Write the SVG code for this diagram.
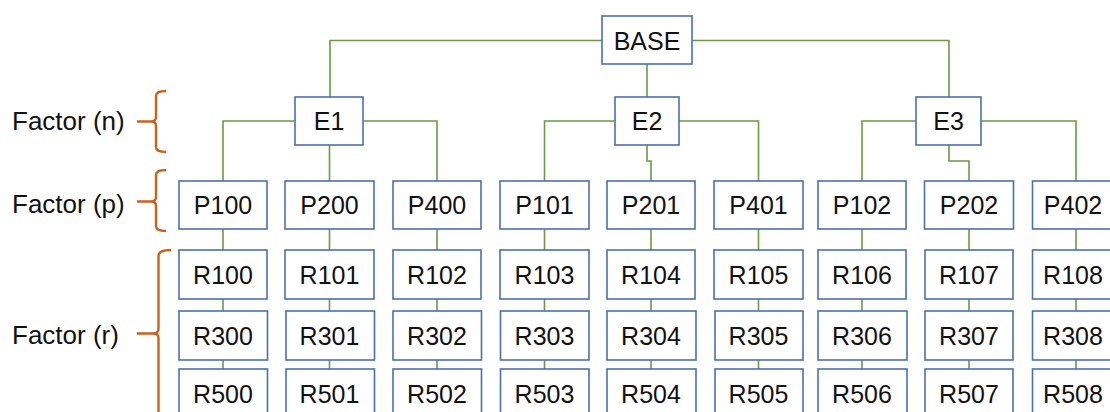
<svg xmlns="http://www.w3.org/2000/svg" width="1110" height="412" viewBox="0 0 1110 412">
<style>
.box{fill:#fff;stroke:#4A70B0;stroke-width:1.6}
.t{font-family:"Liberation Sans",Arial,sans-serif;font-size:25px;fill:#111;text-anchor:middle}
.lbl{font-family:"Liberation Sans",Arial,sans-serif;font-size:26px;fill:#111}
.c{fill:none;stroke:#6A9A42;stroke-width:1.6}
.br{fill:none;stroke:#C8631E;stroke-width:2.4;stroke-linejoin:round}
</style>
<rect width="1110" height="412" fill="#fff"/>
<g id="connectors">
<path class="c" d="M602,40.5 H330 V97"/>
<path class="c" d="M692,40.5 H949 V97"/>
<path class="c" d="M647,64 V97"/>
<path class="c" d="M295,121 H223 V181"/>
<path class="c" d="M363,121 H437 V181"/>
<path class="c" d="M329.5,145 V181"/>
<path class="c" d="M615,121 H544.5 V181"/>
<path class="c" d="M679,121 H758.5 V181"/>
<path class="c" d="M647,145 V161 H651 V181"/>
<path class="c" d="M916,121 H862 V181"/>
<path class="c" d="M981,121 H1076 V181"/>
<path class="c" d="M949,145 V161 H969 V181"/>
<path class="c" d="M223,229 V369 M329.5,229 V369 M437,229 V369 M544.5,229 V369 M651,229 V369 M758.5,229 V369 M862,229 V369 M969,229 V369 M1076,229 V369"/>
</g>
<g id="brackets">
<path class="br" d="M166,91 Q156,91 156,96 V117 Q156,121.5 151,121.5 Q156,121.5 156,126 V147 Q156,152 166,152 M137,121.5 H151"/>
<path class="br" d="M166,170 Q156,170 156,175 V197 Q156,201.5 151,201.5 Q156,201.5 156,206 V226 Q156,231 166,231 M137,201.5 H151"/>
<path class="br" d="M171,250 Q158.5,250 158.5,256 V329 Q158.5,333.5 153,333.5 Q158.5,333.5 158.5,338 V420 M137,333.5 H153"/>
<text class="lbl" x="12" y="130">Factor (n)</text>
<text class="lbl" x="12" y="213">Factor (p)</text>
<text class="lbl" x="12" y="344">Factor (r)</text>
</g>
<g id="BASE"><rect class="box" x="602" y="16" width="90" height="48"/><text class="t" x="647" y="49.5">BASE</text></g>
<g id="E1"><rect class="box" x="295" y="97" width="68" height="48"/><text class="t" x="329" y="130">E1</text></g>
<g id="E2"><rect class="box" x="615" y="97" width="64" height="48"/><text class="t" x="647" y="130">E2</text></g>
<g id="E3"><rect class="box" x="916" y="97" width="65" height="48"/><text class="t" x="948.5" y="130">E3</text></g>
<g id="P100"><rect class="box" x="179" y="181" width="88" height="48"/><text class="t" x="223" y="214">P100</text></g>
<g id="P200"><rect class="box" x="285" y="181" width="89" height="48"/><text class="t" x="329.5" y="214">P200</text></g>
<g id="P400"><rect class="box" x="393" y="181" width="88" height="48"/><text class="t" x="437" y="214">P400</text></g>
<g id="P101"><rect class="box" x="500" y="181" width="89" height="48"/><text class="t" x="544.5" y="214">P101</text></g>
<g id="P201"><rect class="box" x="607" y="181" width="88" height="48"/><text class="t" x="651" y="214">P201</text></g>
<g id="P401"><rect class="box" x="714" y="181" width="89" height="48"/><text class="t" x="758.5" y="214">P401</text></g>
<g id="P102"><rect class="box" x="818" y="181" width="88" height="48"/><text class="t" x="862" y="214">P102</text></g>
<g id="P202"><rect class="box" x="924.5" y="181" width="89" height="48"/><text class="t" x="969" y="214">P202</text></g>
<g id="P402"><rect class="box" x="1032.5" y="181" width="89" height="48"/><text class="t" x="1073" y="214">P402</text></g>
<g id="R100"><rect class="box" x="179" y="250" width="88" height="49"/><text class="t" x="223" y="284">R100</text></g>
<g id="R101"><rect class="box" x="285" y="250" width="89" height="49"/><text class="t" x="329.5" y="284">R101</text></g>
<g id="R102"><rect class="box" x="393" y="250" width="88" height="49"/><text class="t" x="437" y="284">R102</text></g>
<g id="R103"><rect class="box" x="500" y="250" width="89" height="49"/><text class="t" x="544.5" y="284">R103</text></g>
<g id="R104"><rect class="box" x="607" y="250" width="88" height="49"/><text class="t" x="651" y="284">R104</text></g>
<g id="R105"><rect class="box" x="714" y="250" width="89" height="49"/><text class="t" x="758.5" y="284">R105</text></g>
<g id="R106"><rect class="box" x="818" y="250" width="88" height="49"/><text class="t" x="862" y="284">R106</text></g>
<g id="R107"><rect class="box" x="925" y="250" width="88" height="49"/><text class="t" x="969" y="284">R107</text></g>
<g id="R108"><rect class="box" x="1032.5" y="250" width="89" height="49"/><text class="t" x="1073" y="284">R108</text></g>
<g id="R300"><rect class="box" x="179" y="311" width="88.5" height="49"/><text class="t" x="223" y="345">R300</text></g>
<g id="R301"><rect class="box" x="286" y="311" width="88.5" height="49"/><text class="t" x="329.5" y="345">R301</text></g>
<g id="R302"><rect class="box" x="393" y="311" width="88.5" height="49"/><text class="t" x="437" y="345">R302</text></g>
<g id="R303"><rect class="box" x="500.5" y="311" width="88.5" height="49"/><text class="t" x="544.5" y="345">R303</text></g>
<g id="R304"><rect class="box" x="607" y="311" width="89" height="49"/><text class="t" x="651" y="345">R304</text></g>
<g id="R305"><rect class="box" x="715" y="311" width="88" height="49"/><text class="t" x="758.5" y="345">R305</text></g>
<g id="R306"><rect class="box" x="818" y="311" width="89" height="49"/><text class="t" x="862" y="345">R306</text></g>
<g id="R307"><rect class="box" x="925" y="311" width="88" height="49"/><text class="t" x="969" y="345">R307</text></g>
<g id="R308"><rect class="box" x="1032.5" y="311" width="89" height="49"/><text class="t" x="1073" y="345">R308</text></g>
<g id="R500"><rect class="box" x="179" y="369" width="88.5" height="49"/><text class="t" x="223" y="403">R500</text></g>
<g id="R501"><rect class="box" x="286" y="369" width="88.5" height="49"/><text class="t" x="329.5" y="403">R501</text></g>
<g id="R502"><rect class="box" x="393" y="369" width="88.5" height="49"/><text class="t" x="437" y="403">R502</text></g>
<g id="R503"><rect class="box" x="500.5" y="369" width="88.5" height="49"/><text class="t" x="544.5" y="403">R503</text></g>
<g id="R504"><rect class="box" x="607" y="369" width="89" height="49"/><text class="t" x="651" y="403">R504</text></g>
<g id="R505"><rect class="box" x="715" y="369" width="88" height="49"/><text class="t" x="758.5" y="403">R505</text></g>
<g id="R506"><rect class="box" x="818" y="369" width="89" height="49"/><text class="t" x="862" y="403">R506</text></g>
<g id="R507"><rect class="box" x="925" y="369" width="88" height="49"/><text class="t" x="969" y="403">R507</text></g>
<g id="R508"><rect class="box" x="1032.5" y="369" width="89" height="49"/><text class="t" x="1073" y="403">R508</text></g>
</svg>
